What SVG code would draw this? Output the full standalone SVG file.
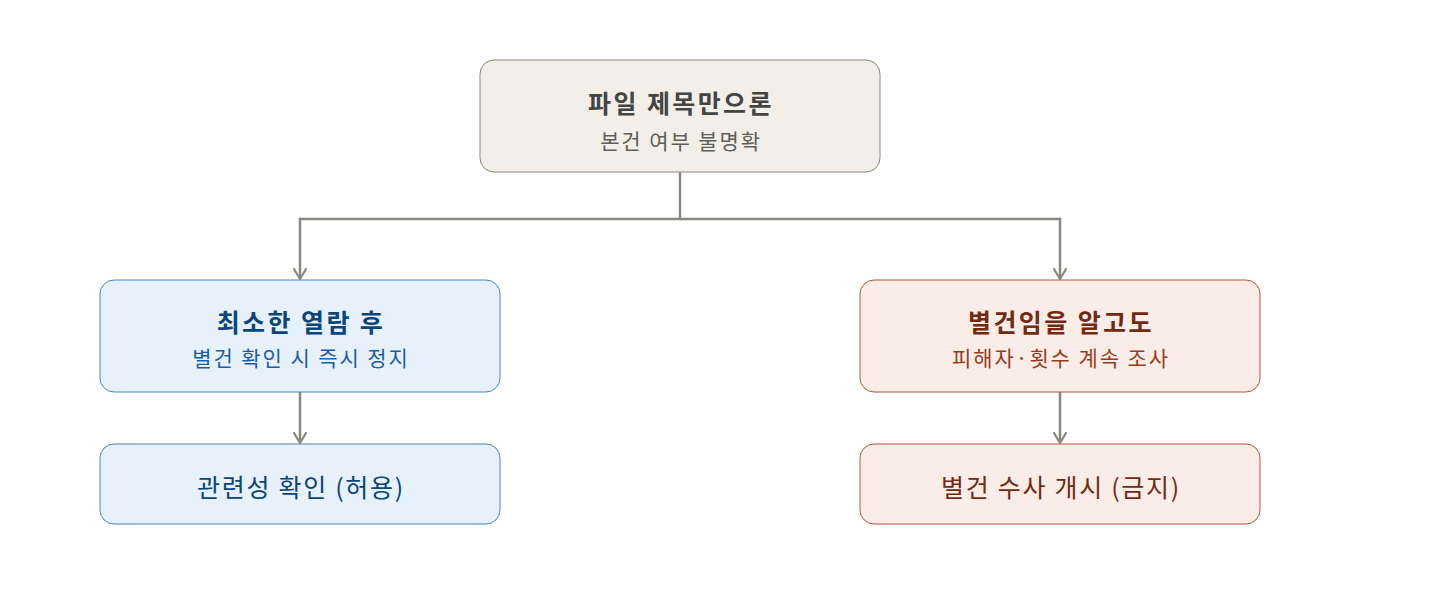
<svg xmlns="http://www.w3.org/2000/svg" width="1440" height="600" viewBox="0 0 1440 600">
<defs>
<marker id="arr" viewBox="0 0 14 14" refX="12" refY="7" markerWidth="14" markerHeight="14" markerUnits="userSpaceOnUse" orient="auto">
<path d="M2 1 L12 7 L2 13" fill="none" stroke="#888780" stroke-width="2.2" stroke-linejoin="round" stroke-linecap="round"/>
</marker>
<style>
text{font-family:"Noto Sans CJK KR","Noto Sans",sans-serif;text-anchor:middle;dominant-baseline:central}
.t{font-size:25px;font-weight:700;letter-spacing:2.4px}
.s{font-size:21px;font-weight:400;letter-spacing:1.9px}
.b{font-size:25px;font-weight:400;letter-spacing:1.7px}
.gray rect{fill:#f1efe8;stroke:#888780;stroke-width:1}
.gray .t{fill:#444441}.gray .s{fill:#5f5e5a}
.blue rect{fill:#e6f1fb;stroke:#4a86c5;stroke-width:1}
.blue .t,.blue .b{fill:#0c447c}.blue .s{fill:#185fa5}
.red rect{fill:#faece7;stroke:#b0583a;stroke-width:1}
.red .t,.red .b{fill:#712b13}.red .s{fill:#993c1d}
.c{fill:none;stroke:#888780;stroke-width:2.5}
</style>
</defs>
<rect width="1440" height="600" fill="#ffffff"/>
<g id="connectors">
<path class="c" d="M680 172 V219 H300 V279" marker-end="url(#arr)"/>
<path class="c" d="M680 219 H1060 V279" marker-end="url(#arr)"/>
<path class="c" d="M300 392 V443" marker-end="url(#arr)"/>
<path class="c" d="M1060 392 V443" marker-end="url(#arr)"/>
</g>
<g id="root" class="gray">
<rect x="480" y="60" width="400" height="112" rx="14"/>
<text class="t" x="681" y="102">파일 제목만으론</text>
<text class="s" x="681" y="140">본건 여부 불명확</text>
</g>
<g id="left" class="blue">
<rect x="100" y="280" width="400" height="112" rx="14"/>
<text class="t" x="301" y="321">최소한 열람 후</text>
<text class="s" x="301" y="357">별건 확인 시 즉시 정지</text>
</g>
<g id="left-result" class="blue">
<rect x="100" y="444" width="400" height="80" rx="14"/>
<text class="b" x="301" y="486">관련성 확인 (허용)</text>
</g>
<g id="right" class="red">
<rect x="860" y="280" width="400" height="112" rx="14"/>
<text class="t" x="1061" y="321">별건임을 알고도</text>
<text class="s" x="1061" y="357">피해자·횟수 계속 조사</text>
</g>
<g id="right-result" class="red">
<rect x="860" y="444" width="400" height="80" rx="14"/>
<text class="b" x="1061" y="486">별건 수사 개시 (금지)</text>
</g>
</svg>
